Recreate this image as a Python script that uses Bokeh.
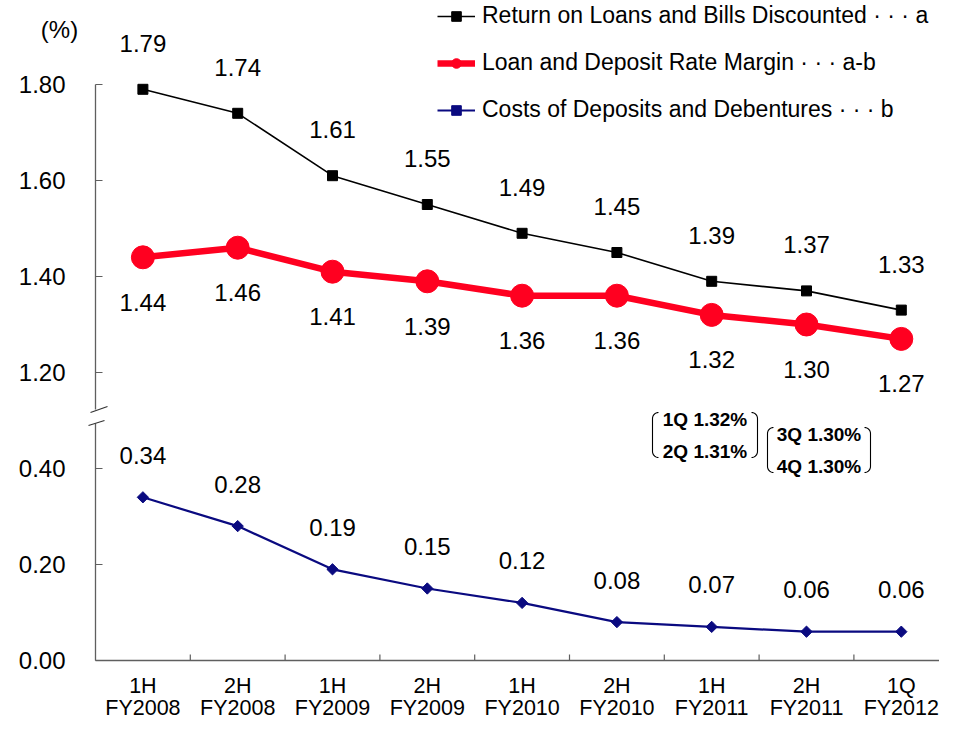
import numpy as np
from bokeh.plotting import figure
from bokeh.models import Range1d, Legend, LegendItem
from bokeh.core.properties import value
from bokeh.embed import file_html
from bokeh.resources import INLINE

# ---------------- data ----------------
period_half = ["1H", "2H", "1H", "2H", "1H", "2H", "1H", "2H", "1Q"]
period_fy = ["FY2008", "FY2008", "FY2009", "FY2009", "FY2010", "FY2010", "FY2011", "FY2011", "FY2012"]
return_on_loans = [1.79, 1.74, 1.61, 1.55, 1.49, 1.45, 1.39, 1.37, 1.33]
rate_margin = [1.44, 1.46, 1.41, 1.39, 1.36, 1.36, 1.32, 1.30, 1.27]
cost_of_deposits = [0.34, 0.28, 0.19, 0.15, 0.12, 0.08, 0.07, 0.06, 0.06]
upper_ticks = [1.20, 1.40, 1.60, 1.80]
lower_ticks = [0.00, 0.20, 0.40]
quarter_notes = [["1Q 1.32%", "2Q 1.31%"], ["3Q 1.30%", "4Q 1.30%"]]
legend_labels = [
    "Return on Loans and Bills Discounted \u00b7 \u00b7 \u00b7 a",
    "Loan and Deposit Rate Margin \u00b7 \u00b7 \u00b7 a-b",
    "Costs of Deposits and Debentures \u00b7 \u00b7 \u00b7 b",
]
unit_label = "(%)"
BREAK_SHIFT = 0.60  # the upper (1.20-1.80) part of the broken axis is drawn 0.60 lower

# ---------------- layout ----------------
FONT = "Liberation Sans"
W, H = 939, 720
PXX, PXY = 94.8, 480.0
AXIS_X, AXIS_Y = 95, 660          # pixel position of the axes corner
x_start = -0.5 - AXIS_X / PXX
x_end = x_start + W / PXX
y_end = AXIS_Y / PXY
y_start = y_end - H / PXY


def dx(px):  # pixel -> data x
    return x_start + px / PXX


def dy(py):  # pixel -> data y
    return y_end - py / PXY


p = figure(width=W, height=H, x_range=Range1d(x_start, x_end), y_range=Range1d(y_start, y_end),
           output_backend="svg", toolbar_location=None, x_axis_location=None, y_axis_location=None,
           min_border=0, min_border_left=0, min_border_right=0, min_border_top=0, min_border_bottom=0)
p.outline_line_color = None
p.xgrid.visible = False
p.ygrid.visible = False

xs = list(range(len(period_half)))
tick_pos = [round(v, 2) for v in lower_ticks] + [round(v - BREAK_SHIFT, 2) for v in upper_ticks]
tick_txt = [f"{v:.2f}" for v in lower_ticks] + [f"{v:.2f}" for v in upper_ticks]

# ---------------- axes ----------------
AX = "#5f5f5f"
p.line([-0.5, -0.5], [0, dy(423)], line_color=AX, line_width=1.3)
p.line([-0.5, -0.5], [dy(409), max(upper_ticks) - BREAK_SHIFT], line_color=AX, line_width=1.3)
p.line([-0.5, x_end], [0, 0], line_color=AX, line_width=1.6)
p.segment(x0=[-0.5] * len(tick_pos), y0=tick_pos, x1=[-0.5 + 7 / PXX] * len(tick_pos), y1=tick_pos,
          line_color=AX, line_width=1.2)
bx = [i + 0.5 for i in xs[:-1]]
p.segment(x0=bx, y0=[0] * len(bx), x1=bx, y1=[6 / PXY] * len(bx), line_color=AX, line_width=1.2)
p.segment(x0=[dx(90), dx(88)], y0=[dy(412), dy(425)], x1=[dx(107), dx(104)], y1=[dy(406), dy(420)],
          line_color="#333333", line_width=1.2)

# tick labels
p.text(x=[-0.5] * len(tick_pos), y=tick_pos, text=tick_txt, x_offset=-30, text_align="right",
       text_baseline="middle", text_font=value(FONT), text_font_size="24px", text_color="black")
p.text(x=xs, y=[0] * len(xs), text=period_half, y_offset=25, text_align="center",
       text_baseline="middle", text_font=value(FONT), text_font_size="21.5px", text_color="black")
p.text(x=xs, y=[0] * len(xs), text=period_fy, y_offset=47, text_align="center",
       text_baseline="middle", text_font=value(FONT), text_font_size="21.5px", text_color="black")
p.text(x=[-0.5], y=[max(upper_ticks) - BREAK_SHIFT], text=[unit_label], x_offset=-36, y_offset=-55,
       text_align="center", text_baseline="middle", text_font=value(FONT), text_font_size="24px",
       text_color="black")

# ---------------- series ----------------
RED = "#FF0020"
NAVY = "#0A0A80"
up_a = [v - BREAK_SHIFT for v in return_on_loans]
up_m = [v - BREAK_SHIFT for v in rate_margin]

la = p.line(xs, up_a, line_color="black", line_width=1.6)
sa = p.scatter(xs, up_a, marker="square", size=10, fill_color="black", line_color="black")
lm = p.line(xs, up_m, line_color=RED, line_width=6.5)
sm = p.scatter(xs, up_m, marker="circle", size=23, fill_color=RED, line_color=RED)
lc = p.line(xs, cost_of_deposits, line_color=NAVY, line_width=2.2)
sc = p.scatter(xs, cost_of_deposits, marker="square", angle=np.pi / 4, size=8,
               fill_color=NAVY, line_color=NAVY)

# data labels
for vals, ys, off in ((return_on_loans, up_a, -46), (rate_margin, up_m, 45),
                      (cost_of_deposits, cost_of_deposits, -42)):
    p.text(x=xs, y=ys, text=[f"{v:.2f}" for v in vals], text_align="center", text_baseline="middle",
           y_offset=off, text_font=value(FONT), text_font_size="24px", text_color="black")

# quarter callouts with brackets
boxes = [(704.5, 434.5, 52.5), (818.5, 449.5, 51.5)]
for (cx, cy, hw), notes in zip(boxes, quarter_notes):
    p.text(x=[dx(cx), dx(cx)], y=[dy(cy - 16), dy(cy + 16)], text=notes, text_align="center",
           text_baseline="middle", text_font=value(FONT), text_font_size="19px",
           text_font_style="bold", text_color="black")
    hh, r = 22.5, 6.0
    t = np.linspace(0, np.pi / 2, 8)
    brk_x, brk_y = [], []
    for side in (-1, 1):
        x0 = cx + side * hw
        top, bot = cy - hh, cy + hh
        px = list(x0 - side * r + side * r * np.sin(t))
        py = list(top + r - r * np.cos(t))
        px += list(x0 - side * r + side * r * np.cos(t))
        py += list(bot - r + r * np.sin(t))
        brk_x.append([dx(v) for v in px])
        brk_y.append([dy(v) for v in py])
    p.multi_line(brk_x, brk_y, line_color="black", line_width=1.1)

# legend
legend = Legend(items=[LegendItem(label=legend_labels[0], renderers=[la, sa]),
                       LegendItem(label=legend_labels[1], renderers=[lm, sm]),
                       LegendItem(label=legend_labels[2], renderers=[lc, sc])],
                location=(437, H - 11 - 112), orientation="vertical", padding=0, margin=0,
                spacing=20, glyph_width=38, glyph_height=24, label_height=24, label_standoff=7,
                label_text_font=FONT, label_text_font_size="23px", label_text_color="black",
                border_line_color=None, background_fill_alpha=0)
p.add_layout(legend)

open("out.html", "w").write(file_html(p, INLINE))
